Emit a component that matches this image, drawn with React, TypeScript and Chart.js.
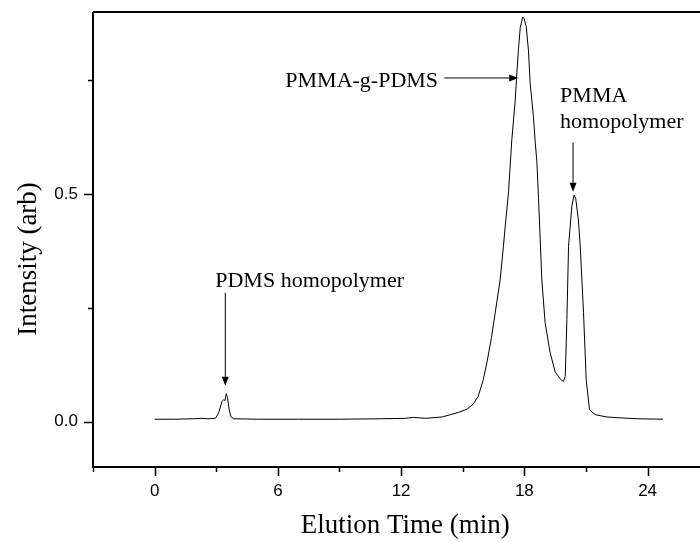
import { useEffect, useRef } from "react";
import { Chart, registerables } from "chart.js";

Chart.register(...registerables);

// ---- data ----
const elutionTime = [
  0.0, 1.0, 1.9, 2.3, 2.6, 2.96, 3.11, 3.28, 3.36, 3.42, 3.49, 3.55, 3.63, 3.72, 3.85,
  5.0, 7.0, 9.0, 11.0, 12.2, 12.6, 13.2, 14.0, 14.4, 14.8, 15.2, 15.5, 15.75, 16.0,
  16.2, 16.4, 16.6, 16.82, 16.98, 17.07, 17.23, 17.39, 17.55, 17.64, 17.71, 17.8,
  17.92, 17.98, 18.09, 18.2, 18.28, 18.44, 18.53, 18.61, 18.69, 18.77, 18.85, 19.01,
  19.25, 19.5, 19.75, 19.9, 19.99, 20.07, 20.15, 20.31, 20.42, 20.5, 20.63, 20.72,
  20.88, 21.01, 21.17, 21.45, 22.0, 22.66, 23.5, 24.75,
];
const intensity = [
  0.005, 0.005, 0.006, 0.007, 0.006, 0.007, 0.018, 0.044, 0.048, 0.046, 0.061, 0.052, 0.026, 0.01, 0.006,
  0.005, 0.005, 0.005, 0.006, 0.007, 0.009, 0.007, 0.01, 0.015, 0.02, 0.027, 0.038, 0.055, 0.092,
  0.135, 0.185, 0.245, 0.311, 0.385, 0.43, 0.505, 0.62, 0.703, 0.77, 0.817, 0.866,
  0.889, 0.886, 0.868, 0.815, 0.745, 0.67, 0.613, 0.57, 0.49, 0.4, 0.311, 0.217,
  0.152, 0.109, 0.093, 0.088, 0.099, 0.224, 0.385, 0.473, 0.498, 0.49, 0.443, 0.385,
  0.239, 0.092, 0.026, 0.015, 0.01, 0.008, 0.006, 0.005,
];

const xMajorTicks = [0, 6, 12, 18, 24];
const xMinorTicks = [-3, 3, 9, 15, 21];
const yMajorTicks = [0, 0.5];
const yMinorTicks = [0.25, 0.75];
const yTickLabels = ["0.0", "0.5"];

const xAxisTitle = "Elution Time (min)";
const yAxisTitle = "Intensity (arb)";

const noteTexts = ["PMMA-g-PDMS", "PMMA", "homopolymer", "PDMS homopolymer"];
const noteX = [6.36, 19.74, 19.74, 2.95];
const noteY = [0.736, 0.703, 0.645, 0.296];

const arrowFromX = [14.1, 20.37, 3.44];
const arrowFromY = [0.755, 0.613, 0.283];
const arrowToX = [17.7, 20.37, 3.44];
const arrowToY = [0.755, 0.505, 0.0785];

const SANS = "'Liberation Sans', Arial, sans-serif";
const SERIF = "'Liberation Serif', 'Times New Roman', serif";

const framePlugin = {
  id: "frame",
  afterDraw(chart: any) {
    const { ctx, chartArea } = chart;
    const xs = chart.scales.x;
    const ys = chart.scales.y;
    const { left, right, top, bottom } = chartArea;
    ctx.save();
    ctx.strokeStyle = "#000";
    ctx.fillStyle = "#000";
    // axes + top frame line
    ctx.lineWidth = 2;
    ctx.beginPath();
    ctx.moveTo(left, top);
    ctx.lineTo(right, top);
    ctx.moveTo(left, top);
    ctx.lineTo(left, bottom);
    ctx.lineTo(right, bottom);
    ctx.stroke();
    // tick marks
    ctx.lineWidth = 1.5;
    ctx.beginPath();
    yMajorTicks.forEach((v) => {
      const p = Math.round(ys.getPixelForValue(v)) + 0.5;
      ctx.moveTo(left - 9, p);
      ctx.lineTo(left, p);
    });
    yMinorTicks.forEach((v) => {
      const p = Math.round(ys.getPixelForValue(v)) + 0.5;
      ctx.moveTo(left - 5, p);
      ctx.lineTo(left, p);
    });
    xMajorTicks.forEach((v) => {
      const p = Math.round(xs.getPixelForValue(v)) + 0.5;
      ctx.moveTo(p, bottom);
      ctx.lineTo(p, bottom + 9);
    });
    xMinorTicks.forEach((v) => {
      const p = Math.round(xs.getPixelForValue(v)) + 0.5;
      ctx.moveTo(p, bottom);
      ctx.lineTo(p, bottom + 5);
    });
    ctx.stroke();

    // annotations
    ctx.font = `22px ${SERIF}`;
    ctx.textAlign = "left";
    ctx.textBaseline = "alphabetic";
    noteTexts.forEach((t, i) => {
      ctx.fillText(t, xs.getPixelForValue(noteX[i]), ys.getPixelForValue(noteY[i]));
    });
    ctx.lineWidth = 1;
    arrowFromX.forEach((_, i) => {
      const x0 = xs.getPixelForValue(arrowFromX[i]);
      const y0 = ys.getPixelForValue(arrowFromY[i]);
      const x1 = xs.getPixelForValue(arrowToX[i]);
      const y1 = ys.getPixelForValue(arrowToY[i]);
      const ang = Math.atan2(y1 - y0, x1 - x0);
      const len = 9;
      const hw = 3.5;
      const bx = x1 - len * Math.cos(ang);
      const by = y1 - len * Math.sin(ang);
      ctx.beginPath();
      ctx.moveTo(x0, y0);
      ctx.lineTo(bx, by);
      ctx.stroke();
      ctx.beginPath();
      ctx.moveTo(x1, y1);
      ctx.lineTo(bx + hw * Math.sin(ang), by - hw * Math.cos(ang));
      ctx.lineTo(bx - hw * Math.sin(ang), by + hw * Math.cos(ang));
      ctx.closePath();
      ctx.fill();
    });

    // axis titles
    ctx.font = `27px ${SERIF}`;
    ctx.textAlign = "center";
    ctx.textBaseline = "alphabetic";
    ctx.fillText(xAxisTitle, xs.getPixelForValue(12.2), chart.height - 9);
    ctx.save();
    ctx.translate(36, 259);
    ctx.rotate(-Math.PI / 2);
    ctx.fillText(yAxisTitle, 0, 0);
    ctx.restore();
    ctx.restore();
  },
};

export default function App() {
  const canvasRef = useRef<HTMLCanvasElement | null>(null);

  useEffect(() => {
    document.body.style.margin = "0";
    document.body.style.overflow = "hidden";
    const canvas = canvasRef.current;
    if (!canvas) return;
    const points = elutionTime.map((x, i) => ({ x, y: intensity[i] }));
    const chart = new Chart(canvas, {
      type: "line",
      data: {
        datasets: [
          {
            data: points,
            borderColor: "#000",
            borderWidth: 1,
            pointRadius: 0,
            tension: 0,
            fill: false,
          },
        ],
      },
      options: {
        animation: false,
        responsive: true,
        maintainAspectRatio: false,
        layout: { padding: { top: 12, right: 0, bottom: 0, left: 0 } },
        plugins: { legend: { display: false }, tooltip: { enabled: false }, title: { display: false } },
        scales: {
          x: {
            type: "linear",
            min: -3,
            max: 26.55,
            afterBuildTicks: (s: any) => {
              s.ticks = [...xMinorTicks, ...xMajorTicks]
                .sort((a, b) => a - b)
                .map((v) => ({ value: v }));
            },
            afterFit: (s: any) => {
              s.height = 75;
              s.paddingLeft = 0;
              s.paddingRight = 0;
            },
            grid: { display: false, drawTicks: false, tickLength: 0 },
            border: { display: false },
            ticks: {
              autoSkip: false,
              maxRotation: 0,
              padding: 14,
              color: "#000",
              font: { family: SANS, size: 17 },
              callback: (v: any) => (xMajorTicks.includes(Number(v)) ? String(v) : ""),
            },
          },
          y: {
            type: "linear",
            min: -0.1,
            max: 0.9,
            afterBuildTicks: (s: any) => {
              s.ticks = [...yMajorTicks, ...yMinorTicks]
                .sort((a, b) => a - b)
                .map((v) => ({ value: v }));
            },
            afterFit: (s: any) => {
              s.width = 93;
              s.paddingTop = 0;
              s.paddingBottom = 0;
            },
            grid: { display: false, drawTicks: false, tickLength: 0 },
            border: { display: false },
            ticks: {
              autoSkip: false,
              padding: 15,
              color: "#000",
              font: { family: SANS, size: 17 },
              callback: (v: any) => {
                const i = yMajorTicks.indexOf(Number(v));
                return i >= 0 ? yTickLabels[i] : "";
              },
            },
          },
        },
      },
      plugins: [framePlugin],
    });
    return () => chart.destroy();
  }, []);

  return (
    <div style={{ width: 700, height: 542, position: "relative" }}>
      <canvas ref={canvasRef} />
    </div>
  );
}
